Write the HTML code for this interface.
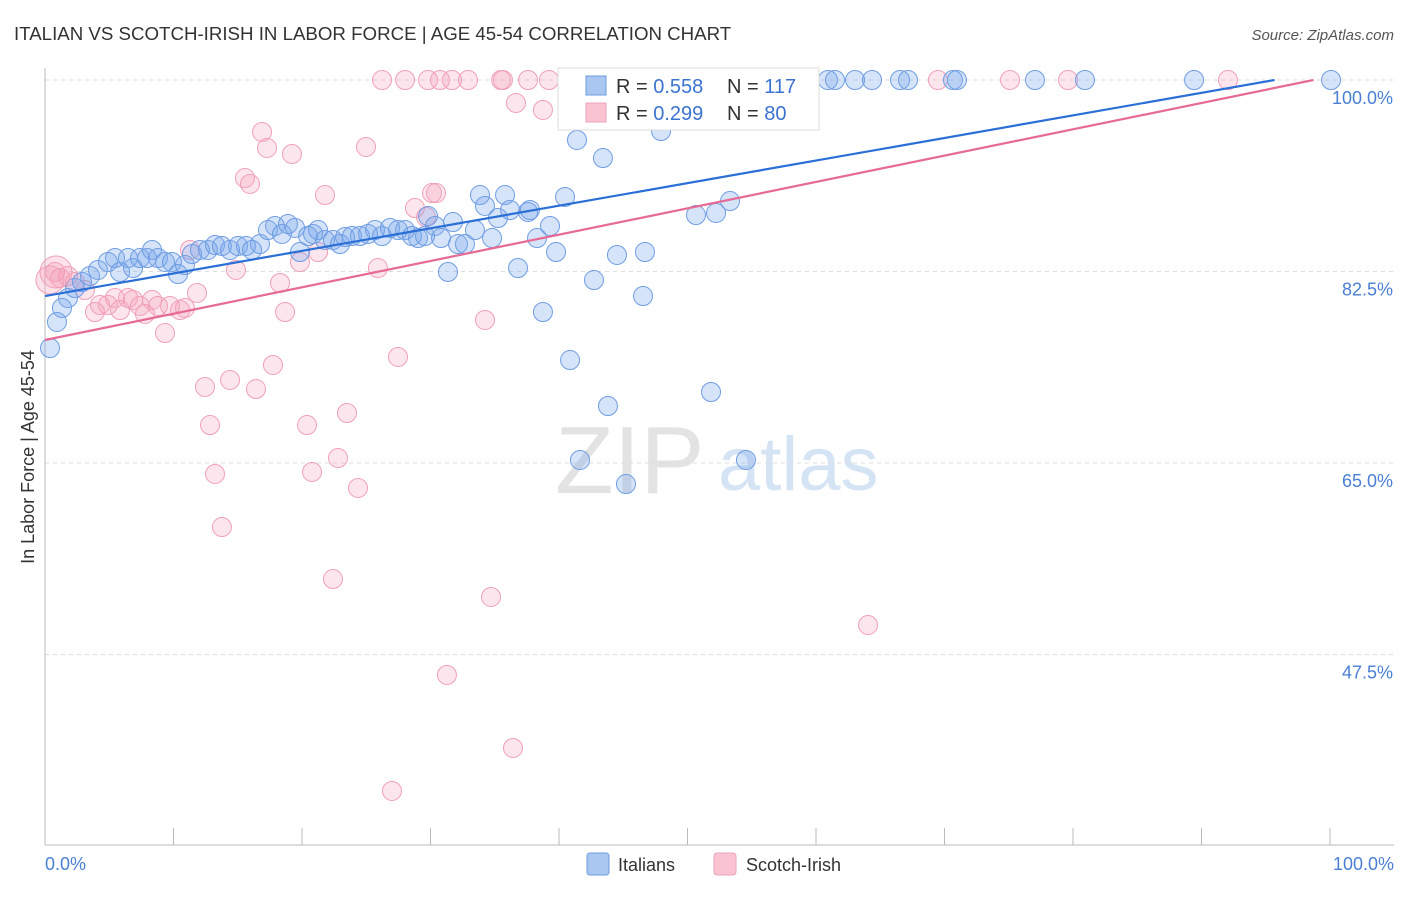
<!DOCTYPE html>
<html><head><meta charset="utf-8">
<style>
body{margin:0;background:#fff;font-family:"Liberation Sans",sans-serif;}
svg text{font-family:"Liberation Sans",sans-serif;}
</style></head>
<body>
<svg id="chart" width="1406" height="892" viewBox="0 0 1406 892">
<text x="14" y="40" font-size="18.7" fill="#333">ITALIAN VS SCOTCH-IRISH IN LABOR FORCE | AGE 45-54 CORRELATION CHART</text>
<text x="1394" y="40" font-size="15" fill="#555" text-anchor="end" font-style="italic">Source: ZipAtlas.com</text>
<g>
<text x="555" y="493" font-size="96" fill="#e3e3e3" font-family="Liberation Serif">ZIP</text>
<text x="718" y="490" font-size="76" fill="#d5e4f5">atlas</text>
</g>
<g id="grid"></g>
<line x1="45" y1="68" x2="45" y2="845" stroke="#bbb"/>
<line x1="45" y1="845" x2="1394" y2="845" stroke="#bbb"/>
<g id="ticks"></g>
<text transform="translate(34,457) rotate(-90)" font-size="18" fill="#333" text-anchor="middle">In Labor Force | Age 45-54</text>
<text x="45" y="870" font-size="18" fill="#4a7fd4">0.0%</text>
<text x="1394" y="870" font-size="18" fill="#4a7fd4" text-anchor="end">100.0%</text>
<g id="points"></g>
<g id="lines"></g>
<g>
<rect x="558" y="68" width="261" height="62" fill="#fff" stroke="#ddd"/>
<rect x="586" y="76" width="20" height="19" fill="#a9c7f0" stroke="#6d9be0"/>
<rect x="586" y="103" width="20" height="19" fill="#f9c3d2" stroke="#eea3b9"/>
<text x="616" y="93" font-size="20" fill="#333">R = <tspan fill="#3b73d1">0.558</tspan></text>
<text x="727" y="93" font-size="20" fill="#333">N = <tspan fill="#3b73d1">117</tspan></text>
<text x="616" y="120" font-size="20" fill="#333">R = <tspan fill="#3b73d1">0.299</tspan></text>
<text x="727" y="120" font-size="20" fill="#333">N = <tspan fill="#3b73d1">80</tspan></text>
</g>
<g>
<rect x="587" y="853" width="22" height="22" rx="3" fill="#a9c7f0" stroke="#6d9be0"/>
<text x="618" y="871" font-size="18" fill="#333">Italians</text>
<rect x="714" y="853" width="22" height="22" rx="3" fill="#f9c3d2" stroke="#eea3b9"/>
<text x="746" y="871" font-size="18" fill="#333">Scotch-Irish</text>
</g>
</svg>
<script>
const yTicks=[100,82.5,65,47.5];
const xTicks=[10,20,30,40,50,60,70,80,90,100];
const blueTrend=[80.26,100.89];
const pinkTrend=[76.24,100.31];
const bluePx=[[50,348],[57,322],[62,308],[68,298],[75,288],[82,282],[90,276],[98,270],[108,262],[115,258],[120,272],[128,258],[133,268],[140,258],[147,258],[152,250],[158,258],[165,262],[172,262],[178,274],[185,265],[192,254],[200,250],[208,250],[215,245],[222,246],[230,250],[238,246],[246,246],[252,250],[260,244],[268,230],[275,226],[282,234],[288,224],[295,228],[300,252],[308,236],[313,234],[318,230],[325,240],[333,240],[340,244],[345,237],[352,236],[360,236],[368,234],[375,230],[382,236],[390,228],[398,230],[405,230],[412,236],[418,238],[425,236],[428,216],[435,226],[441,238],[448,272],[453,222],[458,244],[465,244],[475,230],[480,195],[485,206],[492,238],[498,218],[505,195],[510,210],[518,268],[528,212],[530,210],[537,238],[543,312],[550,226],[556,252],[565,197],[570,360],[577,140],[580,460],[594,280],[603,158],[608,406],[617,255],[626,484],[643,296],[645,252],[661,131],[696,215],[711,392],[716,213],[730,201],[746,460],[757,80],[765,80],[792,80],[797,80],[828,80],[835,80],[855,80],[872,80],[900,80],[908,80],[953,80],[957,80],[1035,80],[1085,80],[1194,80],[1331,80],[667,80],[675,80]];
const pinkPx=[[55,272],[60,278],[68,276],[75,282],[85,290],[95,312],[100,305],[108,305],[115,298],[120,310],[128,298],[133,300],[140,306],[145,314],[152,300],[158,306],[165,333],[170,306],[180,310],[185,308],[190,250],[197,293],[205,387],[210,425],[215,474],[222,527],[230,380],[236,270],[245,178],[250,184],[256,389],[262,132],[267,148],[273,365],[280,283],[285,312],[292,154],[300,262],[307,425],[312,472],[318,252],[325,195],[333,579],[338,458],[347,413],[358,488],[366,147],[378,268],[382,80],[398,357],[405,80],[415,208],[426,217],[428,80],[432,193],[436,193],[440,80],[447,675],[452,80],[468,80],[485,320],[491,597],[501,80],[503,80],[513,748],[516,103],[528,80],[543,110],[549,80],[392,791],[586,80],[647,80],[705,80],[734,80],[868,625],[938,80],[1010,80],[1068,80],[1228,80]];
const blueX=bluePx.map(p=>+((p[0]-45)/12.85).toFixed(2));
const blueY=bluePx.map(p=>+(100-(p[1]-80)*0.09138).toFixed(2));
const pinkX=pinkPx.map(p=>+((p[0]-45)/12.85).toFixed(2));
const pinkY=pinkPx.map(p=>+(100-(p[1]-80)*0.09138).toFixed(2));
const NS='http://www.w3.org/2000/svg';
const sx=v=>45+v*12.85;
const sy=v=>80+(100-v)/0.09138;
function mk(t,a,parent){const e=document.createElementNS(NS,t);for(const k in a)e.setAttribute(k,a[k]);document.getElementById(parent).appendChild(e);return e;}
yTicks.forEach(v=>{
 const l=mk('line',{x1:45,x2:1394,y1:sy(v),y2:sy(v),stroke:'#ddd','stroke-dasharray':'4,4'},'grid');
 
 
 const t=mk('text',{x:1393,y:sy(v)+24,'font-size':18,fill:'#4a7fd4','text-anchor':'end'},'grid');
 t.textContent=v.toFixed(1)+'%';
 
 
});
xTicks.forEach(v=>{
 const l=mk('line',{x1:sx(v),x2:sx(v),y1:828,y2:845,stroke:'#bbb'},'ticks');
 
 
});
function pts(xs,ys,fill,stroke,name){
 xs.forEach((x,i)=>{
  const c=mk('circle',{cx:sx(x),cy:sy(ys[i]),r:9.5,fill:fill,stroke:stroke,'stroke-width':1},'points');
  
  
 });
}
pts(pinkX,pinkY,'rgba(245,160,185,0.28)','#f0a0b8','scotch-irish-point');
pts(blueX,blueY,'rgba(120,165,235,0.3)','#6f9de3','italians-point');
[[56,272,16],[50,280,14]].forEach(p=>{
 const c=mk('circle',{cx:p[0],cy:p[1],r:p[2],fill:'rgba(245,160,185,0.3)',stroke:'#f0a0b8'},'points');
 
 
});
function trend(vals,color,name){
 let x1=100,y1=vals[1];
 if(y1>100){x1=(100-vals[0])/(vals[1]-vals[0])*100;y1=100;}
 const l=mk('line',{x1:sx(0),y1:sy(vals[0]),x2:sx(x1),y2:sy(y1),stroke:color,'stroke-width':2.2},'lines');
 
 
}
trend(blueTrend,'#2a6fd6','italians-trendline');
trend(pinkTrend,'#e66a93','scotch-irish-trendline');
</script>
</body></html>
